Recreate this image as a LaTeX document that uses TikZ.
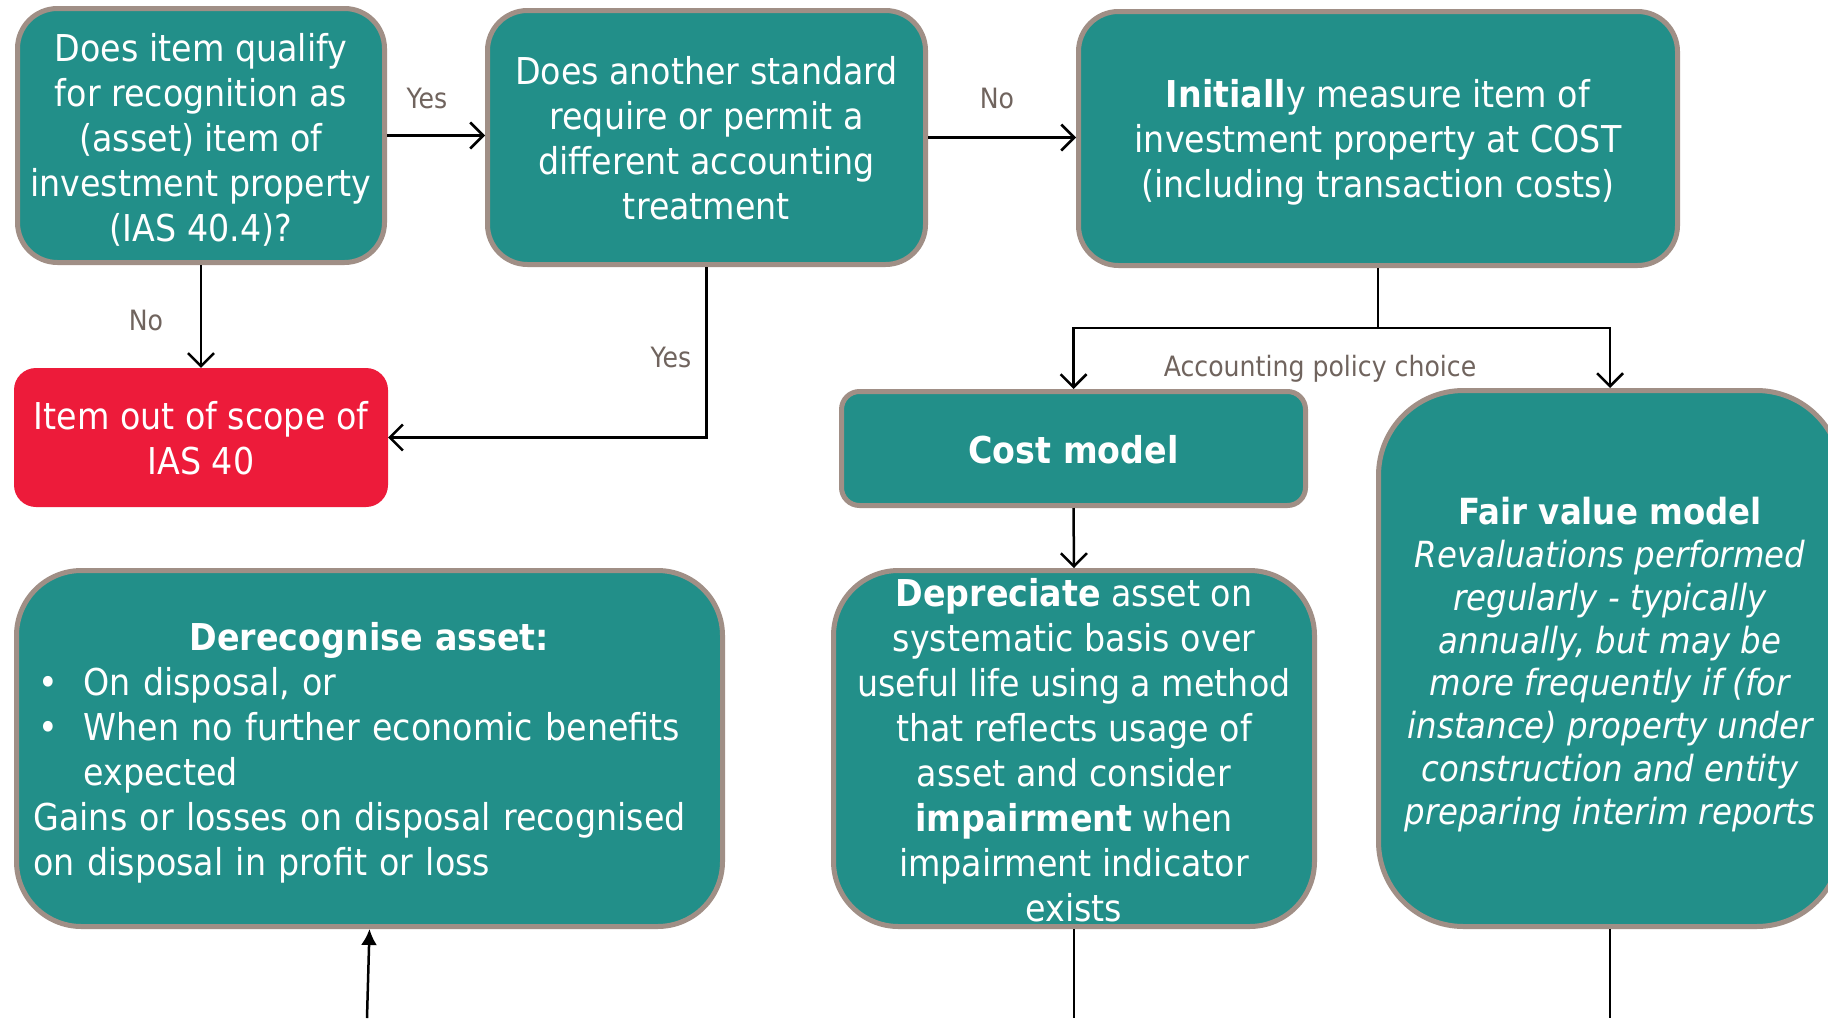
\documentclass[tikz,border=0pt]{standalone}
\usepackage{fontspec}
\setmainfont{DejaVu Sans}[FakeStretch=0.9]
\usetikzlibrary{arrows.meta}

\definecolor{boxteal}{RGB}{34,143,137}
\definecolor{boxedge}{RGB}{160,143,134}
\definecolor{scopered}{RGB}{237,27,58}
\definecolor{labelgrey}{RGB}{112,100,94}

\begin{document}
\begin{tikzpicture}[x=1pt,y=-1pt,
  box/.style={draw=boxedge, fill=boxteal, line width=5pt, inner sep=0pt},
  redbox/.style={fill=scopered, inner sep=0pt},
  boxtext/.style={text=white, align=center, inner sep=0pt,
    font=\fontsize{37}{45}\selectfont},
  flow/.style={line width=2.5pt, -{Straight Barb[length=13pt,width=26pt]}},
  plain/.style={line width=2pt},
  lbl/.style={text=labelgrey, inner sep=0pt, font=\fontsize{28}{34}\selectfont}]

\useasboundingbox (0,0) rectangle (1828,1018);
\fill[white] (0,0) rectangle (1828,1018);

% decision boxes along the top
\node[box, rounded corners=40pt, minimum width=367pt, minimum height=254pt]
  (qualify) at (201,135.5) {};
\node[boxtext] (qualifyText) at (201,140)
  {Does item qualify\\for recognition as\\(asset) item of\\investment property\\(IAS 40.4)?};

\node[box, rounded corners=40pt, minimum width=438pt, minimum height=254pt]
  (other) at (706.5,137.5) {};
\node[boxtext] (otherText) at (706.5,138.5)
  {Does another standard\\require or permit a\\different accounting\\treatment};

\node[box, rounded corners=40pt, minimum width=599pt, minimum height=254pt]
  (initial) at (1378,138.5) {};
\node[boxtext] (initialText) at (1378,142)
  {\textbf{Initiall}y measure item of\\investment property at COST\\(including transaction costs)};

% out of scope
\node[redbox, rounded corners=22pt, minimum width=374pt, minimum height=139pt]
  (scope) at (201,437.5) {};
\node[boxtext] (scopeText) at (201,438.5) {Item out of scope of\\IAS 40};

% measurement models
\node[box, rounded corners=18pt, minimum width=464pt, minimum height=114pt]
  (cost) at (1073.5,448.5) {};
\node[boxtext] (costText) at (1073.5,449.5) {\textbf{Cost model}};

\node[box, rounded corners=85pt, minimum width=463pt, minimum height=536pt]
  (fair) at (1610,658.5) {};
\node[boxtext, font=\fontsize{36}{42.8}\selectfont] (fairText) at (1610,664.5)
  {\textbf{Fair value model}\\\itshape Revaluations performed\\\itshape regularly - typically\\\itshape annually, but may be\\\itshape more frequently if (for\\\itshape instance) property under\\\itshape construction and entity\\\itshape preparing interim reports};

\node[box, rounded corners=65pt, minimum width=481pt, minimum height=356pt]
  (depr) at (1074,748.5) {};
\node[boxtext] (deprText) at (1074,750.5)
  {\textbf{Depreciate} asset on\\systematic basis over\\useful life using a method\\that reflects usage of\\asset and consider\\\textbf{impairment} when\\impairment indicator\\exists};

% derecognition
\node[box, rounded corners=65pt, minimum width=706pt, minimum height=356pt]
  (derec) at (369.5,748.5) {};
\node[boxtext, text width=672pt, align=left] (derecText) at (369.5,753)
  {\makebox[672pt][c]{\textbf{Derecognise asset:}}\\
   \hspace*{5pt}\makebox[45pt][l]{•}On disposal, or\\
   \hspace*{5pt}\makebox[45pt][l]{•}When no further economic benefits\\
   \hspace*{50pt}expected\\
   Gains or losses on disposal recognised\\
   on disposal in profit or loss};

% connectors
\draw[flow] (qualify.east) -- (qualify.east -| other.west);
\draw[flow] (other.east) -- (other.east -| initial.west);
\draw[flow] (qualify.south) -- (scope.north);
\draw[flow] (other.south) |- (scope.east);

\coordinate (split) at (1378,328);
\draw[plain] (initial.south) -- (split);
\draw[flow] (split) -| (cost.north);
\draw[flow] (split) -| (fair.north);
\draw[flow] (cost.south) -- (depr.north);

\coordinate (deprOut) at (1074,1018);
\coordinate (fairOut) at (1610,1018);
\coordinate (derecIn) at (367,1018);
\draw[plain] (depr.south) -- (deprOut);
\draw[plain] (fair.south) -- (fairOut);
\draw[line width=2.5pt, -{Latex[length=16pt,width=16pt]}] (derecIn) -- (derec.south);

% connector labels
\node[lbl] (yesA) at (427,98) {Yes};
\node[lbl] (noA) at (997,98) {No};
\node[lbl] (noB) at (146,320) {No};
\node[lbl] (yesB) at (671,357) {Yes};
\node[lbl] (policy) at (1320,369) {Accounting policy choice};
\end{tikzpicture}
\end{document}
